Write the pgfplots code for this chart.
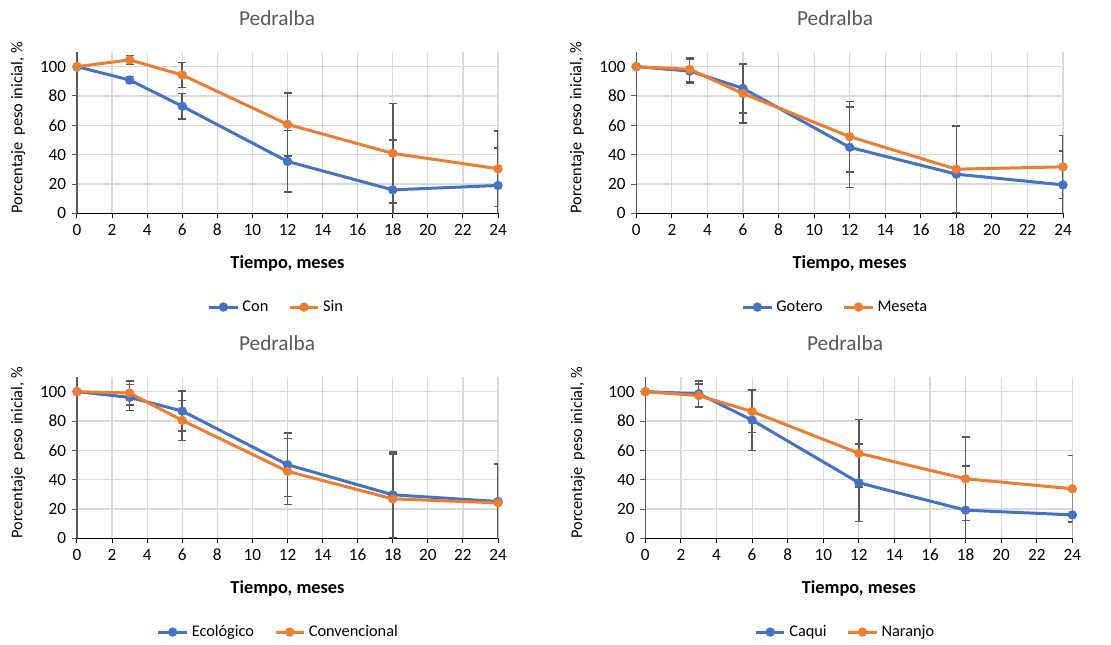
\documentclass[border=0pt]{standalone}
\usepackage{pgfplots}
\usepackage{pgfplotstable}
\pgfplotsset{compat=1.18}
\usepackage{fontspec}
\setmainfont{Carlito}
\definecolor{cblue}{HTML}{4472C4}
\definecolor{corange}{HTML}{ED7D31}
\definecolor{gridc}{HTML}{D9D9D9}
\definecolor{errc}{HTML}{595959}
\definecolor{titc}{HTML}{595959}

% x  y  e
\pgfplotstableread{
x y e
0 100 0
3 90.9 2.3
6 73 8.7
12 35.4 21
18 16 34
24 19 25.5
}\tCon
\pgfplotstableread{
x y e
0 100 0
3 104.6 3
6 94.3 8.6
12 60.7 21.5
18 40.9 34
24 30.4 25.7
}\tSin
\pgfplotstableread{
x y e
0 100 0
3 97 8.2
6 85.2 16.8
12 45 27.4
18 26.7 33
24 19.4 23.1
}\tGotero
\pgfplotstableread{
x y e
0 100 0
3 98.2 8.2
6 81.7 20
12 52.3 24
18 30.1 29.7
24 31.7 21.5
}\tMeseta
\pgfplotstableread{
x y e
0 100 0
3 96.1 8.8
6 86.8 13.7
12 50.2 21.7
18 29.7 29.2
24 25.1 25.8
}\tEco
\pgfplotstableread{
x y e
0 100 0
3 99.1 8.2
6 80.4 13.7
12 45.7 22.5
18 26.9 30.6
24 24.2 26.5
}\tConv
\pgfplotstableread{
x y e
0 100 0
3 98.6 8.7
6 80.6 20.8
12 37.9 26.5
18 19.2 30.1
24 16 17
}\tCaqui
\pgfplotstableread{
x y e
0 100 0
3 97.3 8
6 86.5 14.5
12 58 23
18 40.6 28.6
24 33.8 22.8
}\tNaranjo

\pgfplotsset{
  panel/.style={
    scale only axis,
    anchor=south west,
    height=96.8pt,
    xmin=0, xmax=24, ymin=0, ymax=110,
    xtick={0,2,...,24}, ytick={0,20,...,100},
    axis x line=bottom, axis y line=left,
    x axis line style={-, black, line width=0.7pt},
    y axis line style={-, errc, line width=0.7pt},
    xtick style={black, line width=0.6pt},
    ytick style={errc, line width=0.6pt},
    tick align=outside, major tick length=3pt,
    xmajorgrids, ymajorgrids,
    grid style={gridc, line width=0.7pt},
    /pgf/number format/assume math mode=true,
    tick label style={font=\fontsize{10.3}{12}\selectfont, text=black},
    xlabel={Tiempo, meses},
    xlabel style={font=\fontsize{11}{13}\selectfont\bfseries, at={(axis description cs:0.5,-0.308)}, anchor=center},
    ylabel={Porcentaje\ \ peso inicial, \%},
    ylabel style={font=\fontsize{9.8}{11}\selectfont, anchor=center},
    legend columns=2,
    legend style={draw=none, fill=none, font=\fontsize{9.8}{11}\selectfont,
      /tikz/every even column/.append style={column sep=10pt}},
  },
  ser/.style={#1, line width=1.8pt, mark=*, mark size=2.6pt,
    mark options={fill=#1, draw=#1, solid, line width=0.4pt},
    error bars/y dir=both, error bars/y explicit,
    error bars/error bar style={errc, line width=0.9pt},
    error bars/error mark options={rotate=90, errc, mark size=2.4pt, line width=0.9pt}},
}

\begin{document}
\begin{tikzpicture}
\path[use as bounding box, fill=white] (0,0) rectangle (666.6pt,386.4pt);

% Panel 1
\begin{axis}[panel, at={(46.2pt,258.4pt)}, width=252.6pt,
  ylabel style={at={(axis description cs:-0.14,0.53)}},
  legend style={at={(axis description cs:0.475,-0.581)}, anchor=center}]
\addplot[ser=cblue] table[x=x, y=y, y error=e] {\tCon};
\addlegendentry{Con}
\addplot[ser=corange] table[x=x, y=y, y error=e] {\tSin};
\addlegendentry{Sin}
\end{axis}

% Panel 2
\begin{axis}[panel, at={(381.8pt,258.4pt)}, width=256pt,
  ylabel style={at={(axis description cs:-0.139,0.53)}},
  legend style={at={(axis description cs:0.468,-0.581)}, anchor=center}]
\addplot[ser=cblue] table[x=x, y=y, y error=e] {\tGotero};
\addlegendentry{Gotero}
\addplot[ser=corange] table[x=x, y=y, y error=e] {\tMeseta};
\addlegendentry{Meseta}
\end{axis}

% Panel 3
\begin{axis}[panel, at={(46.2pt,63.4pt)}, width=252.6pt,
  ylabel style={at={(axis description cs:-0.14,0.53)}},
  legend style={at={(axis description cs:0.48,-0.581)}, anchor=center}]
\addplot[ser=cblue] table[x=x, y=y, y error=e] {\tEco};
\addlegendentry{Ecológico}
\addplot[ser=corange] table[x=x, y=y, y error=e] {\tConv};
\addlegendentry{Convencional}
\end{axis}

% Panel 4
\begin{axis}[panel, at={(387.2pt,63.4pt)}, width=256.2pt,
  ylabel style={at={(axis description cs:-0.158,0.53)}},
  legend style={at={(axis description cs:0.47,-0.581)}, anchor=center}]
\addplot[ser=cblue] table[x=x, y=y, y error=e] {\tCaqui};
\addlegendentry{Caqui}
\addplot[ser=corange] table[x=x, y=y, y error=e] {\tNaranjo};
\addlegendentry{Naranjo}
\end{axis}

% Titles
\node[font=\fontsize{12.8}{15}\selectfont, text=titc] at (166.2pt,375.6pt) {Pedralba};
\node[font=\fontsize{12.8}{15}\selectfont, text=titc] at (501pt,375.6pt) {Pedralba};
\node[font=\fontsize{12.8}{15}\selectfont, text=titc] at (166.2pt,180.6pt) {Pedralba};
\node[font=\fontsize{12.8}{15}\selectfont, text=titc] at (507pt,180.6pt) {Pedralba};
\end{tikzpicture}
\end{document}
